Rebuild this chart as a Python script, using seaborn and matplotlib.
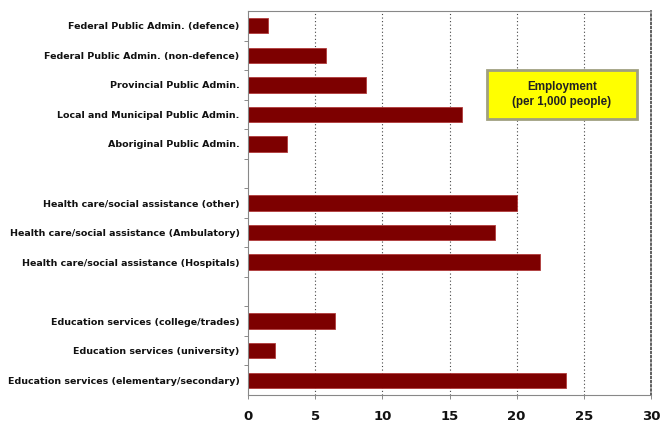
import matplotlib
matplotlib.use("Agg")
import matplotlib.pyplot as plt
from matplotlib.patches import Rectangle
import seaborn as sns
import pandas as pd

# Employment per 1,000 people, by public-sector sub-industry
industries = [
    "Federal Public Admin. (defence)",
    "Federal Public Admin. (non-defence)",
    "Provincial Public Admin.",
    "Local and Municipal Public Admin.",
    "Aboriginal Public Admin.",
    "Health care/social assistance (other)",
    "Health care/social assistance (Ambulatory)",
    "Health care/social assistance (Hospitals)",
    "Education services (college/trades)",
    "Education services (university)",
    "Education services (elementary/secondary)",
]
employment = [1.5, 5.8, 8.8, 15.9, 2.9, 20.0, 18.4, 21.7, 6.5, 2.0, 23.7]

# Blank slots separating the three groups
gap_after_admin = " "
gap_after_health = "  "
row_order = industries[:5] + [gap_after_admin] + industries[5:8] + [gap_after_health] + industries[8:]

x_ticks = [0, 5, 10, 15, 20, 25, 30]
box_text = "Employment\n(per 1,000 people)"

df = pd.DataFrame({"industry": industries, "employment": employment})

sns.set_theme(style="white")
plt.rcParams["font.family"] = ["DejaVu Sans"]

fig = plt.figure(figsize=(6.6, 4.22), dpi=100)
ax = fig.add_axes([248 / 660, 1 - 395 / 422, (651 - 248) / 660, (395 - 11) / 422])

sns.barplot(data=df, x="employment", y="industry", order=row_order,
            color="#7d0000", saturation=1, width=0.52, orient="h",
            edgecolor="#b03a3a", linewidth=0.6, ax=ax)

ax.set_xlim(0, 30)
ax.set_ylim(len(row_order) - 0.5, -0.5)
ax.set_xlabel("")
ax.set_ylabel("")

# Dotted vertical gridlines
ax.set_xticks(x_ticks)
ax.set_xticklabels([str(t) for t in x_ticks], fontsize=9.5, fontweight="bold", color="#111111")
for t in x_ticks[1:-1]:
    ax.axvline(t, color="#444444", linestyle=(0, (1, 2.2)), linewidth=0.8, zorder=0)

# Category labels, with small ticks at slot boundaries
ax.set_yticks(range(len(row_order)))
ax.set_yticklabels(row_order, fontsize=6.8, fontweight="bold", color="#111111")
ax.set_yticks([i + 0.5 for i in range(len(row_order) - 1)], minor=True)
ax.tick_params(axis="y", which="major", length=0, pad=6)
ax.tick_params(axis="y", which="minor", length=3, width=0.6, color="#777777", direction="out", left=True)
ax.tick_params(axis="x", which="major", length=3, width=0.6, color="#777777", direction="out",
               bottom=True, pad=8)

for side in ["left", "bottom", "top"]:
    ax.spines[side].set_visible(True)
    ax.spines[side].set_color("#888888")
    ax.spines[side].set_linewidth(0.8)
ax.spines["right"].set_visible(True)
ax.spines["right"].set_color("#444444")
ax.spines["right"].set_linestyle((0, (1, 1.5)))
ax.spines["right"].set_linewidth(1.2)

# Unit note box
box_x0, box_x1 = 0.593, 0.965
box_y0, box_y1 = 0.719, 0.846
ax.add_patch(Rectangle((box_x0, box_y0), box_x1 - box_x0, box_y1 - box_y0,
                       transform=ax.transAxes, facecolor="#ffff00",
                       edgecolor="#a0a080", linewidth=2.0, zorder=5))
ax.text((box_x0 + box_x1) / 2, (box_y0 + box_y1) / 2, box_text, transform=ax.transAxes,
        ha="center", va="center", fontsize=8.4, family="Liberation Sans", fontweight="bold",
        color="#222222", linespacing=1.25, zorder=6)

fig.savefig("out.png", dpi=100)
